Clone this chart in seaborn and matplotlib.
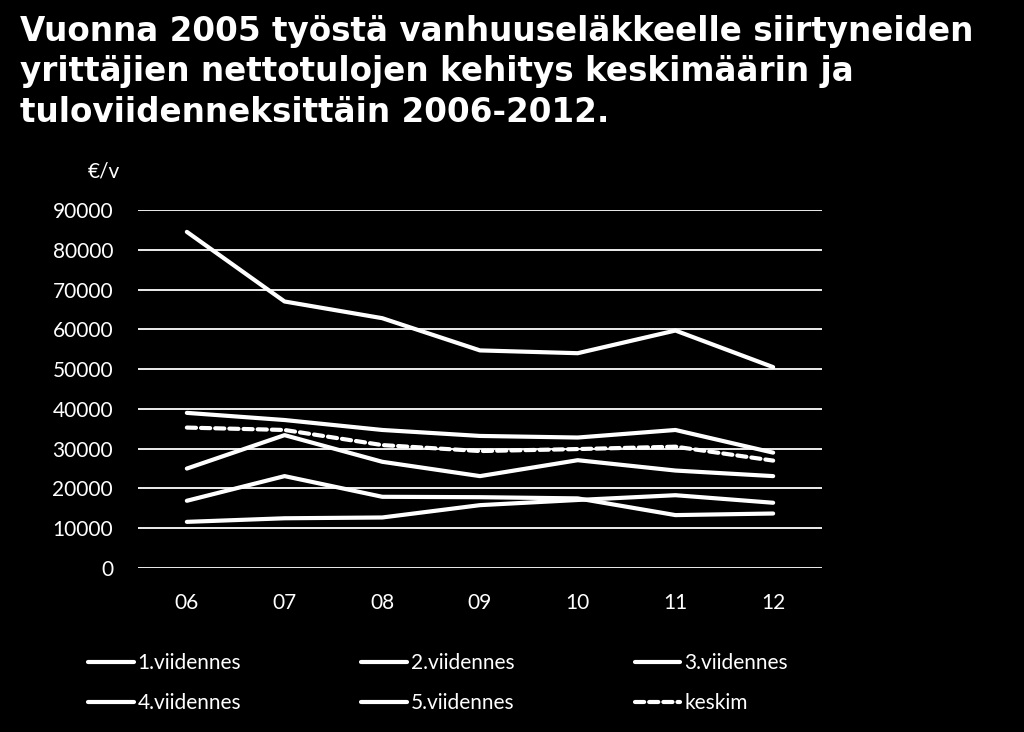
import matplotlib
matplotlib.use("Agg")
import matplotlib.pyplot as plt
import seaborn as sns
import pandas as pd

years = ["06", "07", "08", "09", "10", "11", "12"]
q1 = [11600, 12500, 12700, 15800, 17100, 18300, 16400]
q2 = [16900, 23100, 17900, 17800, 17500, 13300, 13700]
q3 = [25000, 33400, 26700, 23100, 27100, 24500, 23100]
q4 = [39000, 37200, 34700, 33200, 32800, 34700, 29000]
q5 = [84500, 67000, 62800, 54700, 54000, 59700, 50500]
avg = [35300, 34700, 30900, 29400, 29900, 30500, 27000]
names = ["1.viidennes", "2.viidennes", "3.viidennes", "4.viidennes", "5.viidennes", "keskim"]
series = [q1, q2, q3, q4, q5, avg]
yticks = [0, 10000, 20000, 30000, 40000, 50000, 60000, 70000, 80000, 90000]

sns.set_theme(style="dark")
plt.rcParams["font.family"] = ["Lato", "DejaVu Sans"]

fig = plt.figure(figsize=(10.24, 7.32), dpi=100, facecolor="black")
ax = fig.add_axes([138/1024, 1-568/732, (822-138)/1024, (568-210)/732])
ax.set_facecolor("black")

rows = []
for n, vals in zip(names, series):
    for i, (y, v) in enumerate(zip(years, vals)):
        rows.append({"x": i, "year": y, "value": v, "series": n})
df = pd.DataFrame(rows)

for n in names:
    d = df[df.series == n]
    ls = (0, (2.2, 1.2)) if n == "keskim" else "-"
    sns.lineplot(data=d, x="x", y="value", ax=ax, color="white", lw=3,
                 linestyle=ls, label=n, legend=False,
                 solid_capstyle="round", dash_capstyle="round")

ax.set_xlim(-0.5, 6.5)
ax.set_ylim(0, 90000)
ax.set_yticks(yticks)
ax.set_yticklabels([str(t) for t in yticks], color="white", fontsize=15)
ax.set_xticks(range(len(years)))
ax.set_xticklabels(years, color="white", fontsize=15)
ax.tick_params(axis="both", length=0)
ax.tick_params(axis="x", pad=18)
ax.tick_params(axis="y", pad=18)
ax.set_xlabel("")
ax.set_ylabel("")
ax.grid(axis="y", color="white", lw=1.3)
ax.grid(axis="x", visible=False)
for s in ax.spines.values():
    s.set_visible(False)
ax.set_axisbelow(True)

fig.text(88/1024, 1-172/732, "€/v", color="white", fontsize=15, va="center", ha="left")

fig.text(20/1024, 1-15/732,
         "Vuonna 2005 työstä vanhuuseläkkeelle siirtyneiden\nyrittäjien nettotulojen kehitys keskimäärin ja\ntuloviidenneksittäin 2006-2012.",
         color="white", fontsize=23.5, fontweight="bold", family="DejaVu Sans",
         va="top", ha="left", linespacing=1.28)

handles, labels = ax.get_legend_handles_labels()
order = [0, 3, 1, 4, 2, 5]
leg = fig.legend([handles[i] for i in order], [labels[i] for i in order],
                 loc="center left", bbox_to_anchor=(69/1024, 1-683/732),
                 ncol=3, frameon=False, fontsize=15, labelcolor="white",
                 handlelength=2.2, handletextpad=0.2, columnspacing=5.75,
                 labelspacing=0.98)

fig.savefig("out.png", dpi=100, facecolor="black")
